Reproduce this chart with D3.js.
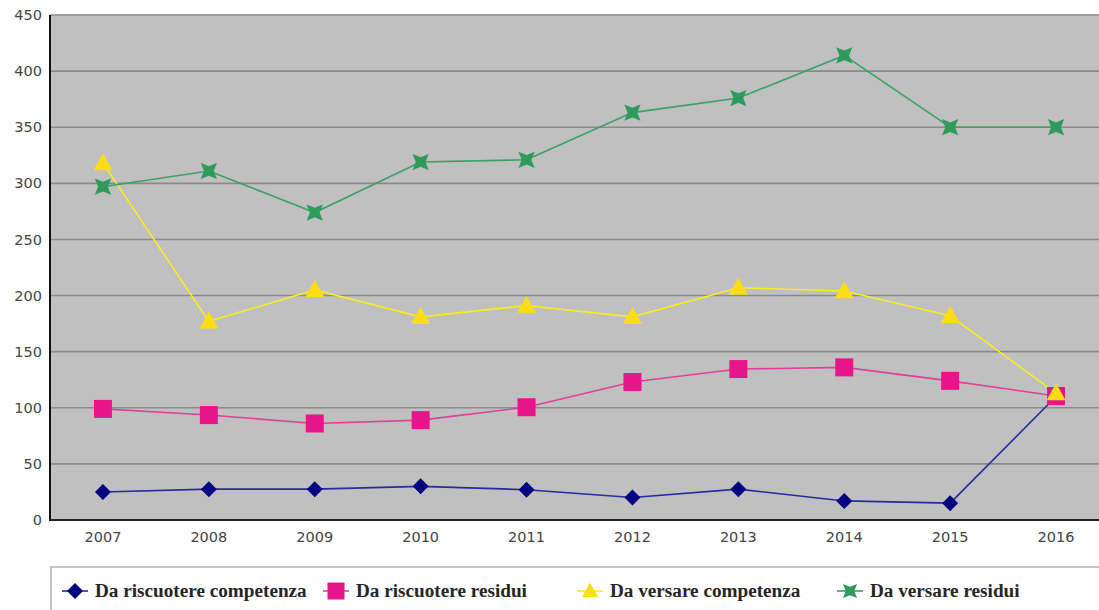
<!DOCTYPE html>
<html><head><meta charset="utf-8">
<script src="https://cdn.jsdelivr.net/npm/d3@7"></script>
<style>
html,body{margin:0;padding:0;background:#fff;overflow:hidden}
</style></head>
<body><svg id="c" width="1099" height="610"></svg>
<script>
const years = ["2007","2008","2009","2010","2011","2012","2013","2014","2015","2016"];
const riscuotereCompetenza = [25, 27.5, 27.5, 30, 27, 20, 27.5, 17, 15, 110];
const riscuotereResidui = [99, 93.5, 86, 89, 100.5, 123, 134.5, 136, 124, 110.5];
const versareCompetenza = [318, 177, 205, 181, 191, 181, 207, 204, 182, 113];
const versareResidui = [297, 311, 274, 319, 321, 363, 376, 414, 350, 350];
const yTicks = [0, 50, 100, 150, 200, 250, 300, 350, 400, 450];
const seriesNames = ["Da riscuotere competenza", "Da riscuotere residui", "Da versare competenza", "Da versare residui"];

(function () {
const series = [
  {name: seriesNames[0], values: riscuotereCompetenza, line: "#2a2a9a", fill: "#000080", shape: "diamond"},
  {name: seriesNames[1], values: riscuotereResidui, line: "#e0409a", fill: "#e8158a", shape: "square"},
  {name: seriesNames[2], values: versareCompetenza, line: "#f5ee20", fill: "#fcdc12", shape: "triangle"},
  {name: seriesNames[3], values: versareResidui, line: "#3aa068", fill: "#2e9a5c", shape: "star"}
];

const svg = d3.select("#c");
const pL = 50, pT = 15, pB = 520, bandW = 105.9, pR = 1099;
const x = d3.scaleBand().domain(years).range([pL, pL + bandW * years.length]);
const y = d3.scaleLinear().domain([0, 450]).range([pB, pT]);

svg.append("rect").attr("x", pL).attr("y", pT).attr("width", pR - pL).attr("height", pB - pT).attr("fill", "#c0c0c0");

svg.append("g").selectAll("line").data(yTicks.filter(d => d > 0)).join("line")
  .attr("x1", pL).attr("x2", pR).attr("y1", d => y(d)).attr("y2", d => y(d))
  .attr("stroke", "#8a8a8a").attr("stroke-width", 1.6);

const yAxis = d3.axisLeft(y).tickValues(yTicks).tickSize(0).tickPadding(8);
const gy = svg.append("g").attr("transform", `translate(${pL},0)`).call(yAxis);
gy.select(".domain").remove();
gy.selectAll("text").attr("font-family", "DejaVu Sans").attr("font-size", 14.5).attr("fill", "#444");

const xAxis = d3.axisBottom(x).tickSize(0).tickPadding(12);
const gx = svg.append("g").attr("transform", `translate(0,${pB})`).call(xAxis);
gx.select(".domain").remove();
gx.selectAll("text").attr("font-family", "DejaVu Sans").attr("font-size", 14.5).attr("fill", "#444");

svg.append("line").attr("x1", pL).attr("x2", pL).attr("y1", pT).attr("y2", pB + 1).attr("stroke", "#111").attr("stroke-width", 2);
svg.append("line").attr("x1", pL).attr("x2", pR).attr("y1", pB).attr("y2", pB).attr("stroke", "#222").attr("stroke-width", 2);

function markerPath(shape, s) {
  if (shape === "diamond") return `M0,${-s}L${s},0L0,${s}L${-s},0Z`;
  if (shape === "square") return `M${-s},${-s}H${s}V${s}H${-s}Z`;
  if (shape === "triangle") return `M0,${-s*1.05}L${s},${s*0.75}L${-s},${s*0.75}Z`;
  if (shape === "star") {
    const a = s, b = s * 0.42;
    const pts = [];
    for (let i = 0; i < 8; i++) {
      const ang = Math.PI / 4 + i * Math.PI / 4;
      const r = i % 2 === 0 ? a : b;
      pts.push([r * Math.cos(ang), r * Math.sin(ang)]);
    }
    return "M" + pts.map(p => p.join(",")).join("L") + "Z";
  }
}
const sizes = {diamond: 8, square: 9, triangle: 9.5, star: 11.5};

const lineGen = d3.line().x((d, i) => x(years[i]) + x.bandwidth() / 2).y(d => y(d));

series.forEach(s => {
  svg.append("path").datum(s.values).attr("d", lineGen).attr("fill", "none")
    .attr("stroke", s.line).attr("stroke-width", 1.6);
});
series.forEach(s => {
  svg.append("g").selectAll("path").data(s.values).join("path")
    .attr("transform", (d, i) => `translate(${x(years[i]) + x.bandwidth() / 2},${y(d)})`)
    .attr("d", markerPath(s.shape, sizes[s.shape]))
    .attr("fill", s.fill);
});

svg.append("rect").attr("x", 51).attr("y", 567).attr("width", 1060).attr("height", 60)
  .attr("fill", "#fff").attr("stroke", "#c4c4c4").attr("stroke-width", 2);
const legX = [62, 323, 577, 837];
const legSize = {diamond: 8, square: 8.5, triangle: 8, star: 10};
const lg = svg.append("g").selectAll("g").data(series).join("g")
  .attr("transform", (d, i) => `translate(${legX[i]},591)`);
lg.append("line").attr("x1", 0).attr("x2", 26).attr("stroke", d => d.line).attr("stroke-width", 1.6);
lg.append("path").attr("transform", "translate(13,0)").attr("d", d => markerPath(d.shape, legSize[d.shape])).attr("fill", d => d.fill);
lg.append("text").attr("x", 33).attr("y", 6).text(d => d.name)
  .attr("font-family", "Liberation Serif").attr("font-weight", "bold").attr("font-size", 19.2).attr("fill", "#262626");
})();
</script></body></html>
